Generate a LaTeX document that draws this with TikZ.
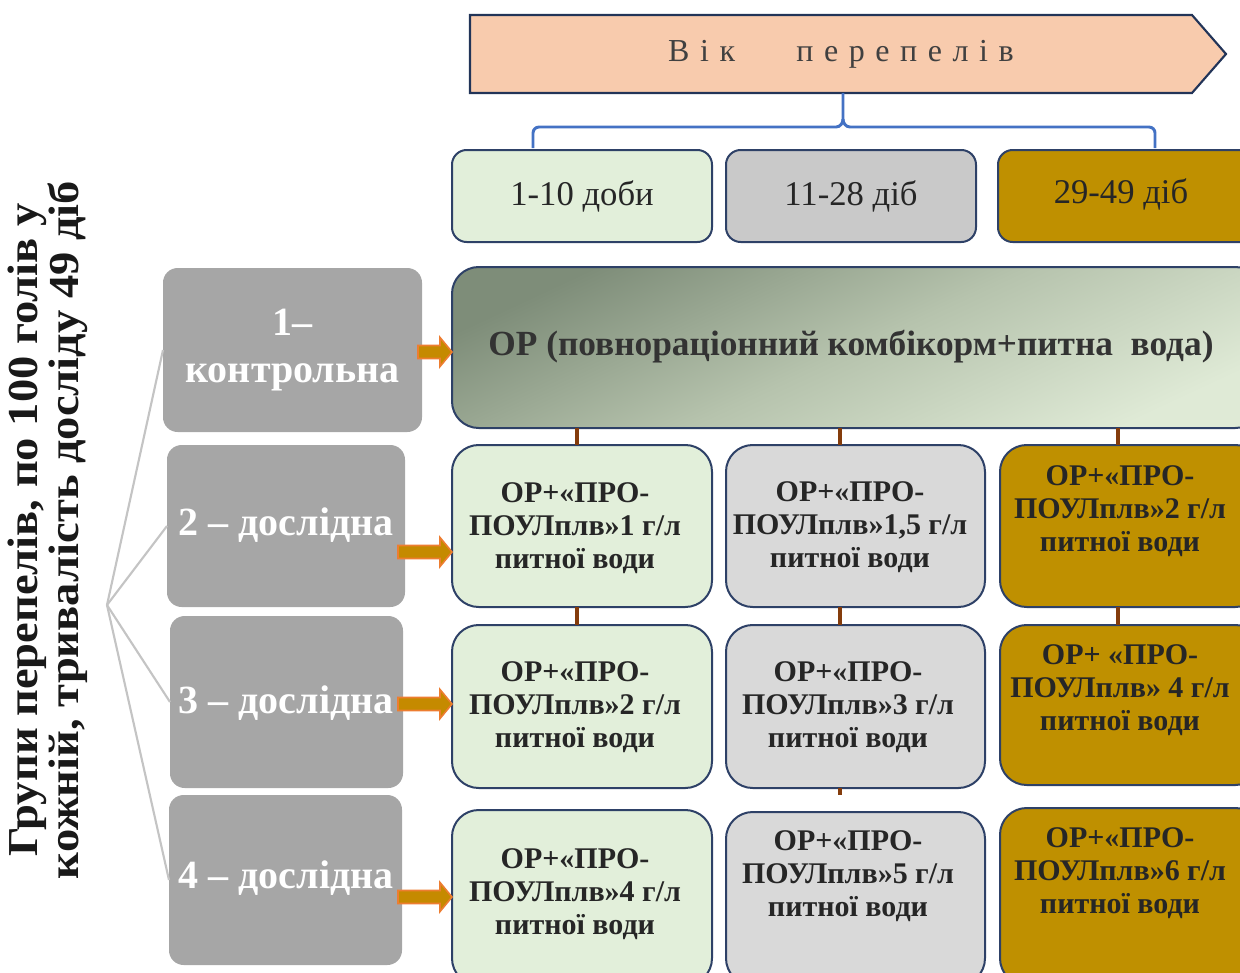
\documentclass[tikz,border=0pt]{standalone}
\usepackage{fontspec}
\setmainfont{Liberation Serif}
\newfontfamily\spacedfont[LetterSpace=33]{Liberation Serif}
\usetikzlibrary{calc}
\definecolor{bannerfill}{HTML}{F8CBAD}
\definecolor{bannerdraw}{HTML}{223458}
\definecolor{bracec}{HTML}{4472C4}
\definecolor{greenf}{HTML}{E2EFDA}
\definecolor{grayA}{HTML}{C9C9C9}
\definecolor{grayB}{HTML}{D9D9D9}
\definecolor{goldf}{HTML}{BF9000}
\definecolor{boxdraw}{HTML}{2E4167}
\definecolor{groupf}{HTML}{A6A6A6}
\definecolor{connc}{HTML}{843C0C}
\definecolor{fanc}{HTML}{C4C4C4}
\definecolor{arrowf}{HTML}{C58A00}
\definecolor{arroww}{HTML}{ED7D31}
\definecolor{ortop}{HTML}{7E8D79}
\definecolor{ormid}{HTML}{B6C3AD}
\definecolor{orbot}{HTML}{DFEAD6}
\definecolor{txtdark}{HTML}{262626}
\newcommand\pbox[7]{\node[#1, minimum width={(#4-#3)*0.75pt}, minimum height={(#6-#5)*0.75pt}] (#2) at ({(#3+#4)/2},{(#5+#6)/2}) {#7};}
\newcommand\barr[4]{\path[barrow] let \p1=($(#1.east)+(#4,0)$), \p2=(#2.west), \p3=(0,#3) in
 (\x1,{\y3+4.9pt}) -- ({\x2-9pt},{\y3+4.9pt}) -- ({\x2-9pt},{\y3+10.9pt}) -- (\x2,\y3) -- ({\x2-9pt},{\y3-10.9pt}) -- ({\x2-9pt},{\y3-4.9pt}) -- (\x1,{\y3-4.9pt}) -- cycle;}
\begin{document}
\begin{tikzpicture}[x=0.75pt,y=-0.75pt,
  every node/.style={inner sep=0pt, outer sep=0pt},
  agebox/.style={draw=boxdraw, line width=1.5pt, rounded corners=11pt, text=txtdark, font=\fontsize{26}{30}\selectfont},
  cellbox/.style={draw=boxdraw, line width=1.5pt, rounded corners=20pt},
  groupbox/.style={fill=groupf, rounded corners=11pt, text=white, align=center, font=\bfseries\fontsize{30}{35}\selectfont},
  celltext/.style={align=center, text=txtdark, font=\bfseries\fontsize{22.5}{24.75}\selectfont},
  conn/.style={draw=connc, line width=3.5pt},
  fan/.style={draw=fanc, line width=1.6pt},
  brace/.style={draw=bracec, line width=2.2pt},
  barrow/.style={fill=arrowf, draw=arroww, line width=1.2pt, line join=miter},
]
\useasboundingbox (0,0) rectangle (1240,972);
\clip (0,0) rectangle (1240,972);
% banner
\draw[fill=bannerfill, draw=bannerdraw, line width=1.6pt] (470,15) -- (1192,15) -- (1226,54) -- (1192,93) -- (470,93) -- cycle;
\node[text=black!75, font=\spacedfont\fontsize{24}{28}\selectfont] (banner) at (841,54) {Вік\hspace{46pt}перепелів};
\coordinate (bannerbot) at (843,93);
% brace
\coordinate (brL) at (533,148);
\coordinate (brR) at (1155,148);
\draw[brace] (brL) -- (533,133) to[out=90,in=180] (539,127) -- (836,127) to[out=0,in=-90] (843,119) -- (bannerbot);
\draw[brace] (brR) -- (1155,133) to[out=90,in=0] (1149,127) -- (850,127) to[out=180,in=-90] (843,119);
% age boxes
\pbox{agebox, fill=greenf}{a1}{452}{712}{150}{242}{1-10 доби}
\pbox{agebox, fill=grayA}{a2}{726}{976}{150}{242}{11-28 діб}
\pbox{agebox, fill=goldf}{a3}{998}{1262}{150}{242}{}
\node[text=txtdark, font=\fontsize{26}{30}\selectfont] (a3t) at (1121,194) {29-49 діб};
% OR box
\pbox{draw=boxdraw, line width=1.5pt, rounded corners=20pt, top color=ortop, bottom color=orbot, middle color=ormid, shading angle=25}{or}{452}{1262}{267}{428}{}
\node[text=black!80, font=\bfseries\fontsize{26.5}{30}\selectfont] (ort) at (851,347) {ОР (повнораціонний комбікорм+питна\ \ вода)};
% cell boxes
\pbox{cellbox, fill=greenf}{r11}{452}{712}{445}{607}{}
\pbox{cellbox, fill=grayB}{r12}{726}{985}{445}{607}{}
\pbox{cellbox, fill=goldf}{r13}{1000}{1262}{445}{607}{}
\pbox{cellbox, fill=greenf}{r21}{452}{712}{625}{788}{}
\pbox{cellbox, fill=grayB}{r22}{726}{985}{625}{788}{}
\pbox{cellbox, fill=goldf}{r23}{1000}{1262}{625}{785}{}
\pbox{cellbox, fill=greenf}{r31}{452}{712}{810}{985}{}
\pbox{cellbox, fill=grayB}{r32}{726}{985}{812}{985}{}
\pbox{cellbox, fill=goldf}{r33}{1000}{1262}{808}{985}{}
\node[celltext] (t11) at (575,528) {ОР+«ПРО-\\ПОУЛплв»1 г/л\\питної води};
\node[celltext] (t12) at (850,527) {ОР+«ПРО-\\ПОУЛплв»1,5 г/л\\питної води};
\node[celltext] (t13) at (1120,511) {ОР+«ПРО-\\ПОУЛплв»2 г/л\\питної води};
\node[celltext] (t21) at (575,707) {ОР+«ПРО-\\ПОУЛплв»2 г/л\\питної води};
\node[celltext] (t22) at (848,707) {ОР+«ПРО-\\ПОУЛплв»3 г/л\\питної води};
\node[celltext] (t23) at (1120,690) {ОР+ «ПРО-\\ПОУЛплв» 4 г/л\\питної води};
\node[celltext] (t31) at (575,894) {ОР+«ПРО-\\ПОУЛплв»4 г/л\\питної води};
\node[celltext] (t32) at (848,876) {ОР+«ПРО-\\ПОУЛплв»5 г/л\\питної води};
\node[celltext] (t33) at (1120,873) {ОР+«ПРО-\\ПОУЛплв»6 г/л\\питної води};
% connectors
\draw[conn] (577,0 |- or.south) -- (577,0 |- r11.north);
\draw[conn] (840,0 |- or.south) -- (840,0 |- r12.north);
\draw[conn] (1118,0 |- or.south) -- (1118,0 |- r13.north);
\draw[conn] (577,0 |- r11.south) -- (577,0 |- r21.north);
\draw[conn] (840,0 |- r12.south) -- (840,0 |- r22.north);
\draw[conn] (1118,0 |- r13.south) -- (1118,0 |- r23.north);
\coordinate (stub) at (840,795);
\draw[conn] (840,0 |- r22.south) -- (stub);
% group boxes
\pbox{groupbox}{g1}{163}{422}{268}{432}{1–\\контрольна}
\pbox{groupbox}{g2}{167}{405}{445}{607}{}
\pbox{groupbox}{g3}{170}{403}{616}{788}{}
\pbox{groupbox}{g4}{169}{402}{795}{965}{}
\node[groupbox, fill=none] (g2t) at (286,525) {2 – дослідна};
\node[groupbox, fill=none] (g3t) at (286,703) {3 – дослідна};
\node[groupbox, fill=none] (g4t) at (286,878) {4 – дослідна};
% arrows
\barr{g1}{or}{352}{-4}
\barr{g2}{r11}{552}{-7}
\barr{g3}{r21}{704}{-5}
\barr{g4}{r31}{897}{-4}
% fan
\coordinate (fan) at (107,605);
\draw[fan] (fan) -- (g1.west);
\draw[fan] (fan) -- (g2.west);
\draw[fan] (fan) -- (g3.west);
\draw[fan] (fan) -- (g4.west);
% side text
\node[rotate=90, text=black!90] (side) at (48,530) {\scalebox{1.09}[1]{\bfseries\fontsize{32}{26}\selectfont\begin{tabular}{@{}c@{}}Групи перепелів, по 100 голів у\\кожній, тривалість досліду 49 діб\end{tabular}}};
\end{tikzpicture}
\end{document}
